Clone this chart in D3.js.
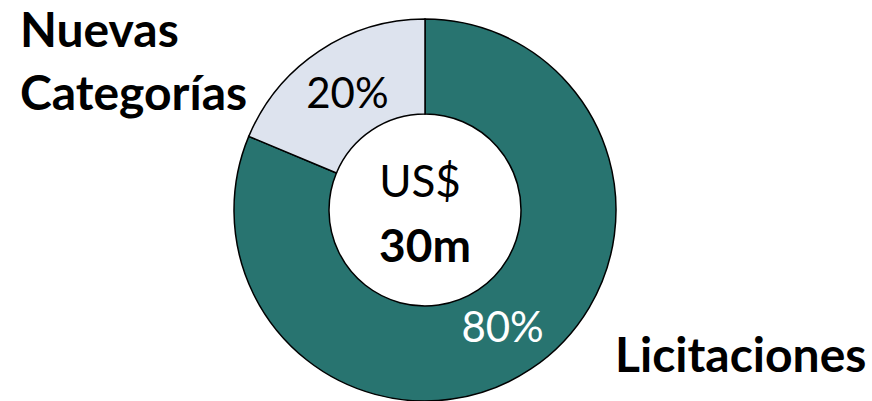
<!DOCTYPE html>
<html>
<head>
<meta charset="utf-8">
<script src="https://cdn.jsdelivr.net/npm/d3@7"></script>
<style>
  body { margin: 0; background: #fff; }
  text { font-family: Lato, "Open Sans", sans-serif; }
</style>
</head>
<body>
<div id="container"></div>
<script>
// Data
const segments = ["Licitaciones", "Nuevas Categorías"];
const shares = [81.3, 18.7];
const shareLabels = ["80%", "20%"];
const totalLabel = ["US$", "30m"];

// Dimensions
const width = 872;
const height = 401;
const cx = 425, cy = 210;
const outerR = 191, innerR = 96;

const svg = d3.select("#container")
    .append("svg")
    .attr("width", width)
    .attr("height", height);

const color = d3.scaleOrdinal(segments, ["#287470", "#dde3ee"]);
const labelColor = d3.scaleOrdinal(segments, ["#ffffff", "#000000"]);

const pie = d3.pie().sort(null).value(d => d.value);
const arc = d3.arc().innerRadius(innerR).outerRadius(outerR);
const labelArc = d3.arc().innerRadius(140).outerRadius(140);

const data = segments.map((s, i) => ({ name: s, value: shares[i], label: shareLabels[i] }));

const g = svg.append("g").attr("transform", `translate(${cx},${cy})`);

g.selectAll("path")
    .data(pie(data))
    .join("path")
    .attr("d", arc)
    .attr("fill", d => color(d.data.name))
    .attr("stroke", "#000")
    .attr("stroke-width", 1.5);

// Percent labels
g.selectAll("text.pct")
    .data(pie(data))
    .join("text")
    .attr("class", "pct")
    .attr("x", d => labelArc.centroid(d)[0])
    .attr("y", d => labelArc.centroid(d)[1] + 15)
    .attr("text-anchor", "middle")
    .attr("fill", d => labelColor(d.data.name))
    .style("font-size", "42px")
    .text(d => d.data.label);

// Center total
g.append("text")
    .attr("x", -5).attr("y", -13)
    .attr("text-anchor", "middle")
    .style("font-size", "44px")
    .text(totalLabel[0]);
g.append("text")
    .attr("x", 0).attr("y", 52)
    .attr("text-anchor", "middle")
    .style("font-size", "46px")
    .style("font-weight", "bold")
    .text(totalLabel[1]);

// Category names
const names = svg.append("g");
names.append("text")
    .attr("x", 20).attr("y", 47)
    .style("font-size", "48px").style("font-weight", "bold")
    .text("Nuevas");
names.append("text")
    .attr("x", 20).attr("y", 110)
    .style("font-size", "48px").style("font-weight", "bold")
    .text("Categorías");
names.append("text")
    .attr("x", 615).attr("y", 372)
    .style("font-size", "48px").style("font-weight", "bold")
    .text(segments[0]);
</script>
</body>
</html>
